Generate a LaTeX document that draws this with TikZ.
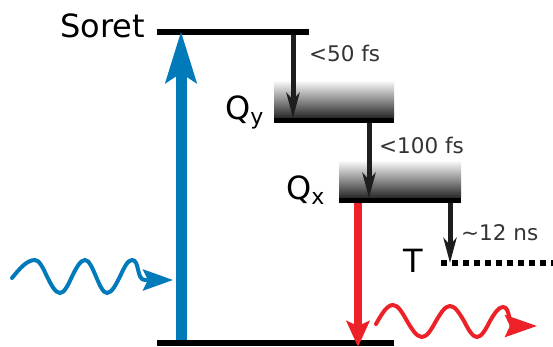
\documentclass[tikz,border=0pt]{standalone}
\usepackage{fontspec}
\setmainfont{DejaVu Sans}
\usepackage{tikz}
\usetikzlibrary{arrows.meta}

\definecolor{pumpblue}{RGB}{0,122,184}
\definecolor{emitred}{RGB}{237,34,40}
\definecolor{decaygray}{RGB}{30,30,30}
\definecolor{timegray}{RGB}{51,51,51}

\begin{document}
\begin{tikzpicture}[x=1pt, y=-1pt,
    level/.style={line width=6pt, black},
    band/.style={top color=white, bottom color=black!85},
    decay/.style={line width=5pt, decaygray, -{Stealth[length=25pt, width=13pt, inset=7pt]}},
    photon/.style={line width=4pt, line cap=round},
    lvlname/.style={anchor=base west, inner sep=0pt, font=\fontsize{32}{32}\selectfont},
    timelbl/.style={anchor=base west, inner sep=0pt, text=timegray, font=\fontsize{21.5}{21.5}\selectfont}]

  \useasboundingbox (0,0) rectangle (553,347);

  % Bands
  \shade[band] (274,80) rectangle (394,118);
  \shade[band] (339,160) rectangle (461,198);

  % Levels
  \coordinate (soretL) at (157,32);  \coordinate (soretR) at (309,32);
  \coordinate (qyL) at (274,120.5);  \coordinate (qyR) at (394,120.5);
  \coordinate (qxL) at (339,200.5);  \coordinate (qxR) at (461,200.5);
  \coordinate (gndL) at (157,343);   \coordinate (gndR) at (394,343);
  \coordinate (tL) at (441,263);     \coordinate (tR) at (553,263);
  \draw[level] (soretL) -- (soretR);
  \draw[level, line width=5pt] (qyL) -- (qyR);
  \draw[level, line width=5pt] (qxL) -- (qxR);
  \draw[level] (gndL) -- (gndR);
  \draw[level, dash pattern=on 6pt off 5pt] (tL) -- (tR);

  % Labels
  \node[lvlname] (soret) at (60,38) {Soret};
  \node[lvlname] (qy) at (225,120) {Q\raisebox{-5pt}{\fontsize{22}{22}\selectfont y}};
  \node[lvlname] (qx) at (286,200) {Q\raisebox{-5pt}{\fontsize{22}{22}\selectfont x}};
  \node[lvlname] (trip) at (403,272) {T};

  % Absorption
  \coordinate (absS) at (181,340);
  \coordinate (absE) at (181,31);
  \draw[pumpblue, line width=11pt, -{Stealth[length=51pt, width=30pt, inset=9pt]}] (absS) -- (absE);

  % Relaxation
  \coordinate (r1S) at (293,35);  \coordinate (r1E) at (293,118);
  \coordinate (r2S) at (369,123); \coordinate (r2E) at (369,198);
  \coordinate (r3S) at (450,203); \coordinate (r3E) at (450,263);
  \draw[decay] (r1S) -- (r1E);
  \draw[decay] (r2S) -- (r2E);
  \draw[decay] (r3S) -- (r3E);
  \node[timelbl] (t1) at (309,62) {<50 fs};
  \node[timelbl] (t2) at (379,154) {<100 fs};
  \node[timelbl] (t3) at (461,240) {\textasciitilde 12 ns};

  % Fluorescence
  \coordinate (emS) at (358,203);
  \coordinate (emE) at (358,347);
  \draw[emitred, line width=8pt, -{Stealth[length=26pt, width=23pt, inset=5pt]}] (emS) -- (emE);

  % Incoming photon
  \coordinate (inS) at (12,278);
  \coordinate (inE) at (173,280);
  \draw[photon, pumpblue, -{Stealth[length=30pt, width=21pt, inset=5pt]}]
    (inS) sin (35,260) cos (47,276.5) sin (60,293) cos (72,276.5) sin (85,260)
    cos (96,276.5) sin (107,293) cos (120,276.5) sin (132,260)
    .. controls (140,260) and (136,280) .. (145,280) -- (inE);

  % Emitted photon
  \coordinate (outS) at (376,324);
  \coordinate (outE) at (537,326);
  \draw[photon, emitred, -{Stealth[length=32pt, width=22pt, inset=5pt]}]
    (outS) sin (393,305) cos (407,321) sin (422,337) cos (436,321) sin (450,306)
    cos (464,321) sin (477,337) cos (490,321) sin (503,307)
    .. controls (511,307) and (507,326) .. (516,326) -- (outE);
\end{tikzpicture}
\end{document}
